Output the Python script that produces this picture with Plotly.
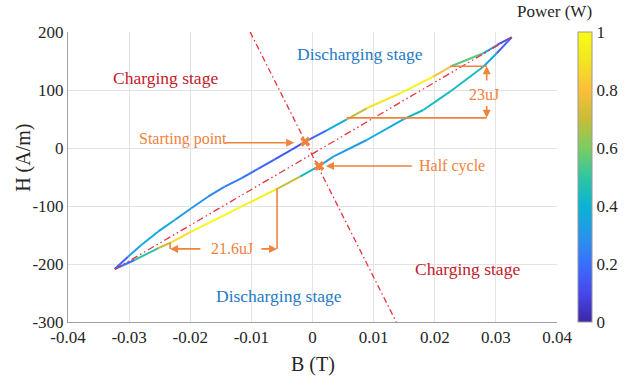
import plotly.graph_objects as go
from plotly.colors import sample_colorscale

# ---------------- data ----------------
# Upper branch: bottom-left tip -> top-right tip
upper_B = [-0.03236, -0.03018, -0.02801, -0.02528, -0.02254, -0.01983, -0.01710, -0.01436,
           -0.01165, -0.00892, -0.00618, -0.00347, -0.00118, 0.00232, 0.00560, 0.00887,
           0.01432, 0.01976, 0.02277, 0.02794, 0.03020, 0.03259]
upper_H = [-208.6, -187.4, -167.2, -144.3, -124.1, -103.9, -84.0, -66.7,
           -52.2, -36.0, -19.5, -3.2, 10.9, 30.5, 49.5, 68.5,
           94.3, 122.9, 141.4, 163.3, 177.6, 190.9]
upper_P = [0.03, 0.30, 0.38, 0.37, 0.34, 0.31, 0.28, 0.25,
           0.22, 0.19, 0.16, 0.14, 0.14, 0.22, 0.55, 0.82,
           1.00, 0.92, 0.68, 0.42, 0.25, 0.03]

# Lower branch: top-right tip -> bottom-left tip
lower_B = [0.03259, 0.03014, 0.02794, 0.02249, 0.01813, 0.01485, 0.00887, 0.00340,
           0.00111, -0.00204, -0.00564, -0.01165, -0.01710, -0.01983, -0.02310,
           -0.02528, -0.02909, -0.03236]
lower_H = [190.9, 163.3, 140.2, 97.1, 65.5, 49.5, 13.8, -15.0,
           -31.0, -49.5, -69.5, -101.2, -129.8, -144.3, -162.6,
           -172.9, -193.1, -208.6]
lower_P = [0.03, 0.30, 0.44, 0.45, 0.43, 0.40, 0.34, 0.30,
           0.36, 0.50, 0.90, 1.00, 1.00, 0.97, 0.80,
           0.60, 0.38, 0.03]

# Reference lines
diag_B = [-0.0323, 0.0326]
diag_H = [-209, 191]
steep_B = [-0.0102, 0.0137]
steep_H = [200, -300]

# Markers
start_pt = (-0.00118, 10.9)
half_pt = (0.00111, -31.0)

x_ticks = [-0.04, -0.03, -0.02, -0.01, 0, 0.01, 0.02, 0.03, 0.04]
x_ticktext = ["-0.04", "-0.03", "-0.02", "-0.01", "0", "0.01", "0.02", "0.03", "0.04"]
y_ticks = [-300, -200, -100, 0, 100, 200]
y_ticktext = ["-300", "-200", "-100", "0", "100", "200"]
cb_ticks = [0, 0.2, 0.4, 0.6, 0.8, 1]
cb_ticktext = ["0", "0.2", "0.4", "0.6", "0.8", "1"]

# ---------------- style ----------------
parula = [
    [0.00, "#3e26a8"], [0.10, "#4747eb"], [0.20, "#3a6ffd"], [0.30, "#2696ea"],
    [0.40, "#0ab3d4"], [0.50, "#2fc6a1"], [0.60, "#7bcd62"], [0.70, "#c9bc37"],
    [0.80, "#fcbf3b"], [0.90, "#f4e51f"], [1.00, "#f9fb15"],
]
FONT = "Liberation Serif, Times New Roman, serif"
ORANGE = "#f0823c"
RED = "#e8323c"
DARKRED = "#c0202a"
BLUE = "#1f7ac4"
TXT = "#262626"

fig = go.Figure()

def add_branch(bx, hy, pw):
    for i in range(len(bx) - 1):
        p = (pw[i] + pw[i + 1]) / 2
        c = sample_colorscale(parula, [p])[0]
        fig.add_trace(go.Scatter(x=[bx[i], bx[i + 1]], y=[hy[i], hy[i + 1]], mode="lines",
                                 line=dict(color=c, width=2), hoverinfo="skip", showlegend=False))

add_branch(upper_B, upper_H, upper_P)
add_branch(lower_B, lower_H, lower_P)

fig.add_trace(go.Scatter(x=diag_B, y=diag_H, mode="lines",
                         line=dict(color=RED, width=1.3, dash="7px,3px,1.5px,3px,1.5px,3px"),
                         showlegend=False))
fig.add_trace(go.Scatter(x=steep_B, y=steep_H, mode="lines",
                         line=dict(color=RED, width=1.3, dash="6px,3px,1.5px,3px"),
                         showlegend=False))

# colorbar carrier
fig.add_trace(go.Scatter(
    x=upper_B + lower_B, y=upper_H + lower_H, mode="markers",
    marker=dict(size=0.1, color=upper_P + lower_P, colorscale=parula, cmin=0, cmax=1,
                showscale=True,
                colorbar=dict(x=1.043, xanchor="left", y=0.5, yanchor="middle", len=1,
                              thickness=14, xpad=0, ypad=0, outlinewidth=1, outlinecolor="#9a9a9a",
                              tickvals=cb_ticks, ticktext=cb_ticktext, ticks="",
                              tickfont=dict(family=FONT, size=17, color=TXT))),
    hoverinfo="skip", showlegend=False))

fig.add_trace(go.Scatter(x=[start_pt[0], half_pt[0]], y=[start_pt[1], half_pt[1]], mode="markers",
                         marker=dict(symbol="x", size=9, color=ORANGE, line=dict(width=0)),
                         showlegend=False))

# ---------- annotation lines ----------
line_style = dict(color=ORANGE, width=1.6)
for (x0, y0, x1, y1) in [
    (0.0225, 141, 0.0285, 141),
    (0.0056, 52, 0.0285, 52),
    (-0.0058, -69, -0.0058, -174),
    (-0.0233, -164, -0.0233, -174),
]:
    fig.add_shape(type="line", x0=x0, y0=y0, x1=x1, y1=y1, xref="x", yref="y", line=line_style)

anns = []
def arrow(x, y, ax, ay):
    anns.append(dict(x=x, y=y, ax=ax, ay=ay, xref="x", yref="y", axref="x", ayref="y",
                     text="", showarrow=True, arrowhead=2, arrowsize=1, arrowwidth=1.6,
                     arrowcolor=ORANGE))

arrow(-0.0030, 9, -0.0146, 9)        # starting point
arrow(0.0022, -31, 0.0165, -31)      # half cycle
arrow(0.0285, 141, 0.0285, 114)      # 23uJ up
arrow(0.0285, 52, 0.0285, 75)        # 23uJ down
arrow(-0.0233, -174, -0.0181, -174)  # 21.6uJ left
arrow(-0.0058, -174, -0.0086, -174)  # 21.6uJ right

def text(x, y, s, color, size):
    anns.append(dict(x=x, y=y, xref="x", yref="y", text=s, showarrow=False,
                     font=dict(family=FONT, size=size, color=color)))

text(-0.0212, 16, "Starting point", ORANGE, 16)
text(0.0228, -31, "Half cycle", ORANGE, 16)
text(0.0280, 93, "23uJ", ORANGE, 16)
text(-0.0131, -174, "21.6uJ", ORANGE, 16)
text(-0.0240, 121, "Charging stage", DARKRED, 17.5)
text(0.0254, -209, "Charging stage", DARKRED, 17.5)
text(0.0078, 162, "Discharging stage", BLUE, 17.5)
text(-0.0055, -255, "Discharging stage", BLUE, 17.5)

anns.append(dict(x=-0.09, y=0.566, xref="paper", yref="paper", xanchor="center", yanchor="middle",
                 text="H (A/m)", textangle=-90,
                 showarrow=False, font=dict(family=FONT, size=20, color=TXT)))
anns.append(dict(x=0.5, y=-0.148, xref="paper", yref="paper", xanchor="center", yanchor="middle",
                 text="B (T)", showarrow=False, font=dict(family=FONT, size=20, color=TXT)))
anns.append(dict(x=0.914, y=1.072, xref="paper", yref="paper", xanchor="left", yanchor="middle",
                 text="Power (W)", showarrow=False, font=dict(family=FONT, size=17, color=TXT)))

axis_common = dict(showgrid=True, gridcolor="#e3e3e3", gridwidth=1, zeroline=False,
                   showline=True, linecolor="#a0a0a0", linewidth=1, ticks="",
                   tickfont=dict(family=FONT, size=17, color=TXT))

fig.update_layout(
    width=633, height=378,
    margin=dict(l=68, r=76, t=32, b=56),
    paper_bgcolor="white", plot_bgcolor="white",
    font=dict(family=FONT, color=TXT),
    showlegend=False,
    xaxis=dict(range=[-0.04, 0.04], tickvals=x_ticks, ticktext=x_ticktext, **axis_common),
    yaxis=dict(range=[-300, 200], tickvals=y_ticks, ticktext=y_ticktext, **axis_common),
    annotations=anns,
)

fig.write_html("out.html")
